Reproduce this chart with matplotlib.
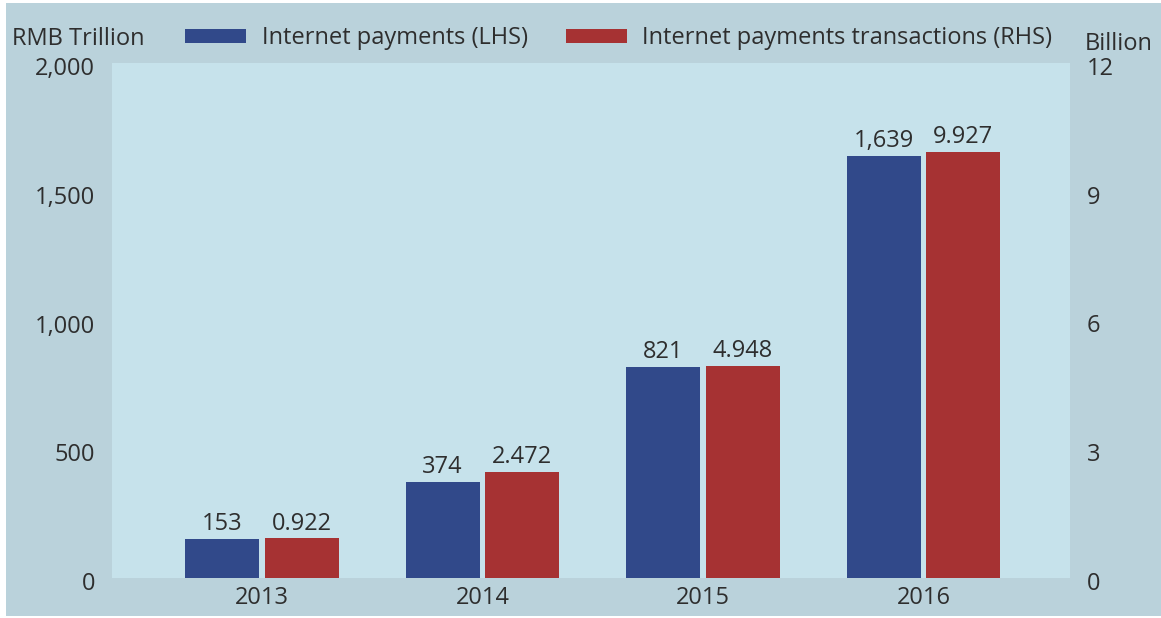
import numpy as np
import matplotlib
matplotlib.use('Agg')
import matplotlib.pyplot as plt
import matplotlib.patches as patches
from matplotlib.transforms import ScaledTranslation

plt.rcParams['font.family'] = ['Open Sans', 'DejaVu Sans']
FS = 17
plt.rcParams['font.size'] = FS

years = ['2013', '2014', '2015', '2016']
payments = [153, 374, 821, 1639]           # RMB trillion, left axis
transactions = [0.922, 2.472, 4.948, 9.927]  # billion, right axis

left_ticks = [0, 500, 1000, 1500, 2000]
right_ticks = [0, 3, 6, 9, 12]

blue = '#31498a'
red = '#a63233'
txt = '#2e2e2e'
fig_bg = '#bad2db'
ax_bg = '#c6e2eb'

fig = plt.figure(figsize=(11.61, 6.18), dpi=100, facecolor='white')
# coloured panel with a thin white rim on the left and top
fig.patches.append(patches.Rectangle((6 / 1161, 2 / 618), 1 - 6 / 1161, 1 - 5 / 618,
                                     transform=fig.transFigure, facecolor=fig_bg,
                                     edgecolor='none', zorder=-10))

ax = fig.add_axes([112 / 1161, 1 - 578 / 618, (1070 - 112) / 1161, (578 - 63) / 618])
ax.set_facecolor(ax_bg)
ax2 = ax.twinx()

x = np.arange(len(years))
w = 0.335
off = 0.18
b1 = ax.bar(x - off, payments, w, color=blue, label='Internet payments (LHS)')
b2 = ax2.bar(x + off, transactions, w, color=red, label='Internet payments transactions (RHS)')

ax.bar_label(b1, labels=[f'{v:,}' for v in payments], padding=2, color=txt, fontsize=FS)
ax2.bar_label(b2, labels=[f'{v:.3f}' for v in transactions], padding=2, color=txt, fontsize=FS)

ax.set_xlim(-0.68, 3.665)
ax.set_ylim(0, 2000)
ax2.set_ylim(0, 12)
ax.set_xticks(x, years)
ax.set_yticks(left_ticks, [f'{v:,}' for v in left_ticks])
ax2.set_yticks(right_ticks, [str(v) for v in right_ticks])

for a in (ax, ax2):
    for s in a.spines.values():
        s.set_visible(False)
    a.tick_params(length=0, colors=txt, labelsize=FS)
ax.tick_params(axis='y', pad=12)
ax.tick_params(axis='x', pad=6)
ax2.tick_params(axis='y', pad=12)

# nudge the y tick labels down a little
shift = ScaledTranslation(0, -3 / 100, fig.dpi_scale_trans)
for lab in ax.get_yticklabels() + ax2.get_yticklabels():
    lab.set_transform(lab.get_transform() + shift)

fig.text(12 / 1161, 1 - 39 / 618, 'RMB Trillion', ha='left', va='center', color=txt, fontsize=FS)
fig.text(1085 / 1161, 1 - 44 / 618, 'Billion', ha='left', va='center', color=txt, fontsize=FS)

fig.legend(handles=[b1, b2], ncol=2, loc='center left',
           bbox_to_anchor=(185 / 1161, 1 - 38 / 618), frameon=False,
           borderpad=0, borderaxespad=0, handlelength=2.6, handleheight=0.55,
           handletextpad=0.65, columnspacing=1.6, fontsize=FS, labelcolor=txt)

fig.savefig('out.png', dpi=100, facecolor=fig.get_facecolor())
